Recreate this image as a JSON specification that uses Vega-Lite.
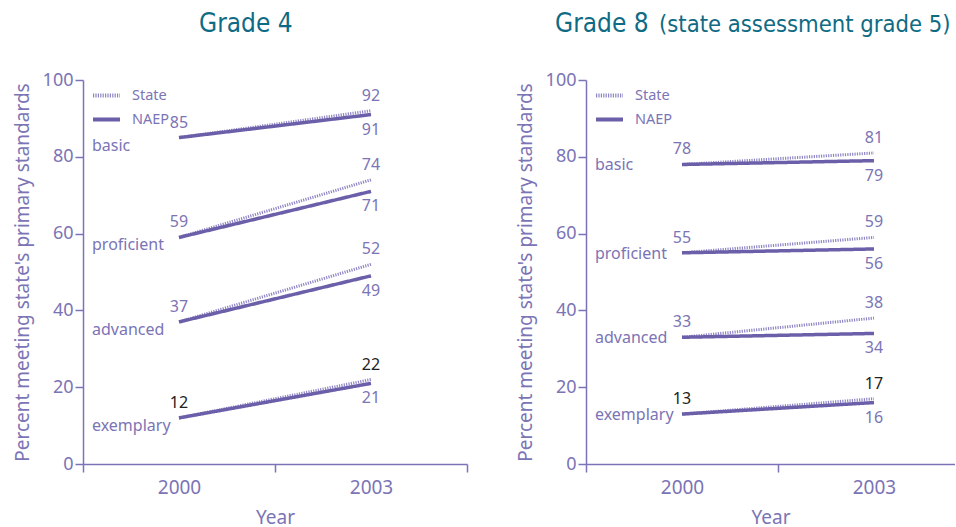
{
  "$schema": "https://vega.github.io/schema/vega-lite/v6.json",
  "padding": {"left": 13, "top": 11, "right": 0, "bottom": 0},
  "config": {
    "view": {"stroke": null},
    "font": "Noto Sans",
    "axis": {
      "domainColor": "#7b73b8", "domainWidth": 1.5, "tickColor": "#7b73b8", "tickWidth": 1.5, "tickSize": 8,
      "labelColor": "#7b74b5", "titleColor": "#7b74b5", "labelFontSize": 18, "titleFontSize": 19,
      "titleFontWeight": "normal", "grid": false, "labelFont": "Noto Sans", "titleFont": "Noto Sans"
    },
    "legend": {
      "labelColor": "#7b74b5", "labelFontSize": 14.5, "symbolType": "stroke", "symbolSize": 729,
      "symbolStrokeWidth": 4, "labelOffset": 10, "rowPadding": -5, "padding": 0
    },
    "title": {"font": "DejaVu Sans Condensed", "fontSize": 26, "fontWeight": "normal", "color": "#0f6b84",
      "subtitleFont": "DejaVu Sans Condensed", "subtitleFontSize": 23.6, "subtitleColor": "#0f6b84"}
  },
  "datasets": {
    "scores": [
      {"grade": 4, "level": "basic", "source": "State", "year": 2000, "value": 85},
      {"grade": 4, "level": "basic", "source": "State", "year": 2003, "value": 92},
      {"grade": 4, "level": "basic", "source": "NAEP", "year": 2000, "value": 85},
      {"grade": 4, "level": "basic", "source": "NAEP", "year": 2003, "value": 91},
      {"grade": 4, "level": "proficient", "source": "State", "year": 2000, "value": 59},
      {"grade": 4, "level": "proficient", "source": "State", "year": 2003, "value": 74},
      {"grade": 4, "level": "proficient", "source": "NAEP", "year": 2000, "value": 59},
      {"grade": 4, "level": "proficient", "source": "NAEP", "year": 2003, "value": 71},
      {"grade": 4, "level": "advanced", "source": "State", "year": 2000, "value": 37},
      {"grade": 4, "level": "advanced", "source": "State", "year": 2003, "value": 52},
      {"grade": 4, "level": "advanced", "source": "NAEP", "year": 2000, "value": 37},
      {"grade": 4, "level": "advanced", "source": "NAEP", "year": 2003, "value": 49},
      {"grade": 4, "level": "exemplary", "source": "State", "year": 2000, "value": 12},
      {"grade": 4, "level": "exemplary", "source": "State", "year": 2003, "value": 22},
      {"grade": 4, "level": "exemplary", "source": "NAEP", "year": 2000, "value": 12},
      {"grade": 4, "level": "exemplary", "source": "NAEP", "year": 2003, "value": 21},
      {"grade": 8, "level": "basic", "source": "State", "year": 2000, "value": 78},
      {"grade": 8, "level": "basic", "source": "State", "year": 2003, "value": 81},
      {"grade": 8, "level": "basic", "source": "NAEP", "year": 2000, "value": 78},
      {"grade": 8, "level": "basic", "source": "NAEP", "year": 2003, "value": 79},
      {"grade": 8, "level": "proficient", "source": "State", "year": 2000, "value": 55},
      {"grade": 8, "level": "proficient", "source": "State", "year": 2003, "value": 59},
      {"grade": 8, "level": "proficient", "source": "NAEP", "year": 2000, "value": 55},
      {"grade": 8, "level": "proficient", "source": "NAEP", "year": 2003, "value": 56},
      {"grade": 8, "level": "advanced", "source": "State", "year": 2000, "value": 33},
      {"grade": 8, "level": "advanced", "source": "State", "year": 2003, "value": 38},
      {"grade": 8, "level": "advanced", "source": "NAEP", "year": 2000, "value": 33},
      {"grade": 8, "level": "advanced", "source": "NAEP", "year": 2003, "value": 34},
      {"grade": 8, "level": "exemplary", "source": "State", "year": 2000, "value": 13},
      {"grade": 8, "level": "exemplary", "source": "State", "year": 2003, "value": 17},
      {"grade": 8, "level": "exemplary", "source": "NAEP", "year": 2000, "value": 13},
      {"grade": 8, "level": "exemplary", "source": "NAEP", "year": 2003, "value": 16}
    ]
  },
  "spacing": 48,
  "resolve": {
    "scale": {"color": "independent", "strokeDash": "independent"},
    "legend": {"color": "independent", "strokeDash": "independent"}
  },
  "hconcat": [
    {
      "width": 384, "height": 384,
      "title": {"text": "Grade 4", "offset": 34, "anchor": "start", "frame": "group", "dx": 116},
      "data": {"name": "scores"},
      "transform": [{"filter": "datum.grade == 4"}],
      "encoding": {
        "x": {"field": "year", "type": "quantitative",
          "scale": {"domain": [1998.5, 2004.5], "nice": false, "zero": false},
          "axis": {"title": "Year", "values": [1998.5, 2000, 2001.5, 2003, 2004.5], "format": "d",
            "labelExpr": "datum.value == 2000 || datum.value == 2003 ? datum.label : ''",
            "tickOpacity": {"condition": {"test": "datum.value == 2000 || datum.value == 2003", "value": 0}, "value": 1},
            "labelOverlap": false, "labelFlush": false, "labelFontSize": 19, "labelPadding": 6, "titlePadding": 11}},
        "y": {"field": "value", "type": "quantitative",
          "scale": {"domain": [0, 100], "nice": false},
          "axis": {"title": "Percent meeting state's primary standards", "values": [0, 20, 40, 60, 80, 100], "titlePadding": 10}}
      },
      "layer": [
        {
          "transform": [{"filter": "datum.source == 'State'"}],
          "mark": {"type": "line", "strokeWidth": 3},
          "encoding": {
            "detail": {"field": "level"},
            "color": {"field": "source", "type": "nominal", "scale": {"domain": ["State", "NAEP"], "range": ["#8c86c4", "#6a5fa8"]},
              "legend": {"title": null, "orient": "none", "legendX": 8, "legendY": 0}},
            "strokeDash": {"field": "source", "type": "nominal", "scale": {"domain": ["State", "NAEP"], "range": [[1.2, 1.2], [1, 0]]},
              "legend": {"title": null, "orient": "none", "legendX": 8, "legendY": 0}}
          }
        },
        {
          "transform": [{"filter": "datum.source == 'NAEP'"}],
          "mark": {"type": "line", "strokeWidth": 3.5},
          "encoding": {
            "detail": {"field": "level"},
            "color": {"field": "source", "type": "nominal", "scale": {"domain": ["State", "NAEP"], "range": ["#8c86c4", "#6a5fa8"]},
              "legend": {"title": null, "orient": "none", "legendX": 8, "legendY": 0}},
            "strokeDash": {"field": "source", "type": "nominal", "scale": {"domain": ["State", "NAEP"], "range": [[1.2, 1.2], [1, 0]]},
              "legend": {"title": null, "orient": "none", "legendX": 8, "legendY": 0}}
          }
        },
        {
          "transform": [{"filter": "datum.source == 'State'"}],
          "mark": {"type": "text", "dy": -15, "fontSize": 16},
          "encoding": {
            "text": {"field": "value", "type": "quantitative"},
            "color": {"condition": {"test": "datum.level == 'exemplary'", "value": "#222222"}, "value": "#7b74b5"}
          }
        },
        {
          "transform": [{"filter": "datum.source == 'NAEP' && datum.year == 2003"}],
          "mark": {"type": "text", "dy": 15, "fontSize": 16, "color": "#7b74b5"},
          "encoding": {"text": {"field": "value", "type": "quantitative"}}
        },
        {
          "transform": [{"filter": "datum.source == 'NAEP' && datum.year == 2000"}],
          "mark": {"type": "text", "align": "left", "dx": -87, "dy": 8, "fontSize": 16, "color": "#7b74b5"},
          "encoding": {"text": {"field": "level", "type": "nominal"}}
        }
      ]
    },
    {
      "width": 369, "height": 384,
      "title": {"text": "Grade 8", "subtitle": "(state assessment grade 5)",
        "subtitlePadding": -24, "offset": 34, "anchor": "start", "frame": "group", "dx": -31,
        "encode": {"subtitle": {"update": {"dx": {"value": 73}}}}},
      "data": {"name": "scores"},
      "transform": [{"filter": "datum.grade == 8"}],
      "encoding": {
        "x": {"field": "year", "type": "quantitative",
          "scale": {"domain": [1998.5, 2004.266], "nice": false, "zero": false},
          "axis": {"title": "Year", "values": [1998.5, 2000, 2001.5, 2003], "format": "d",
            "labelExpr": "datum.value == 2000 || datum.value == 2003 ? datum.label : ''",
            "tickOpacity": {"condition": {"test": "datum.value == 2000 || datum.value == 2003", "value": 0}, "value": 1},
            "labelOverlap": false, "labelFlush": false, "labelFontSize": 19, "labelPadding": 6, "titlePadding": 11}},
        "y": {"field": "value", "type": "quantitative",
          "scale": {"domain": [0, 100], "nice": false},
          "axis": {"title": "Percent meeting state's primary standards", "values": [0, 20, 40, 60, 80, 100], "titlePadding": 10}}
      },
      "layer": [
        {
          "transform": [{"filter": "datum.source == 'State'"}],
          "mark": {"type": "line", "strokeWidth": 3},
          "encoding": {
            "detail": {"field": "level"},
            "color": {"field": "source", "type": "nominal", "scale": {"domain": ["State", "NAEP"], "range": ["#8c86c4", "#6a5fa8"]},
              "legend": {"title": null, "orient": "none", "legendX": 8, "legendY": 0}},
            "strokeDash": {"field": "source", "type": "nominal", "scale": {"domain": ["State", "NAEP"], "range": [[1.2, 1.2], [1, 0]]},
              "legend": {"title": null, "orient": "none", "legendX": 8, "legendY": 0}}
          }
        },
        {
          "transform": [{"filter": "datum.source == 'NAEP'"}],
          "mark": {"type": "line", "strokeWidth": 3.5},
          "encoding": {
            "detail": {"field": "level"},
            "color": {"field": "source", "type": "nominal", "scale": {"domain": ["State", "NAEP"], "range": ["#8c86c4", "#6a5fa8"]},
              "legend": {"title": null, "orient": "none", "legendX": 8, "legendY": 0}},
            "strokeDash": {"field": "source", "type": "nominal", "scale": {"domain": ["State", "NAEP"], "range": [[1.2, 1.2], [1, 0]]},
              "legend": {"title": null, "orient": "none", "legendX": 8, "legendY": 0}}
          }
        },
        {
          "transform": [{"filter": "datum.source == 'State'"}],
          "mark": {"type": "text", "dy": -15, "fontSize": 16},
          "encoding": {
            "text": {"field": "value", "type": "quantitative"},
            "color": {"condition": {"test": "datum.level == 'exemplary'", "value": "#222222"}, "value": "#7b74b5"}
          }
        },
        {
          "transform": [{"filter": "datum.source == 'NAEP' && datum.year == 2003"}],
          "mark": {"type": "text", "dy": 15, "fontSize": 16, "color": "#7b74b5"},
          "encoding": {"text": {"field": "value", "type": "quantitative"}}
        },
        {
          "transform": [{"filter": "datum.source == 'NAEP' && datum.year == 2000"}],
          "mark": {"type": "text", "align": "left", "dx": -87, "dy": 1, "fontSize": 16, "color": "#7b74b5"},
          "encoding": {"text": {"field": "level", "type": "nominal"}}
        }
      ]
    }
  ]
}
